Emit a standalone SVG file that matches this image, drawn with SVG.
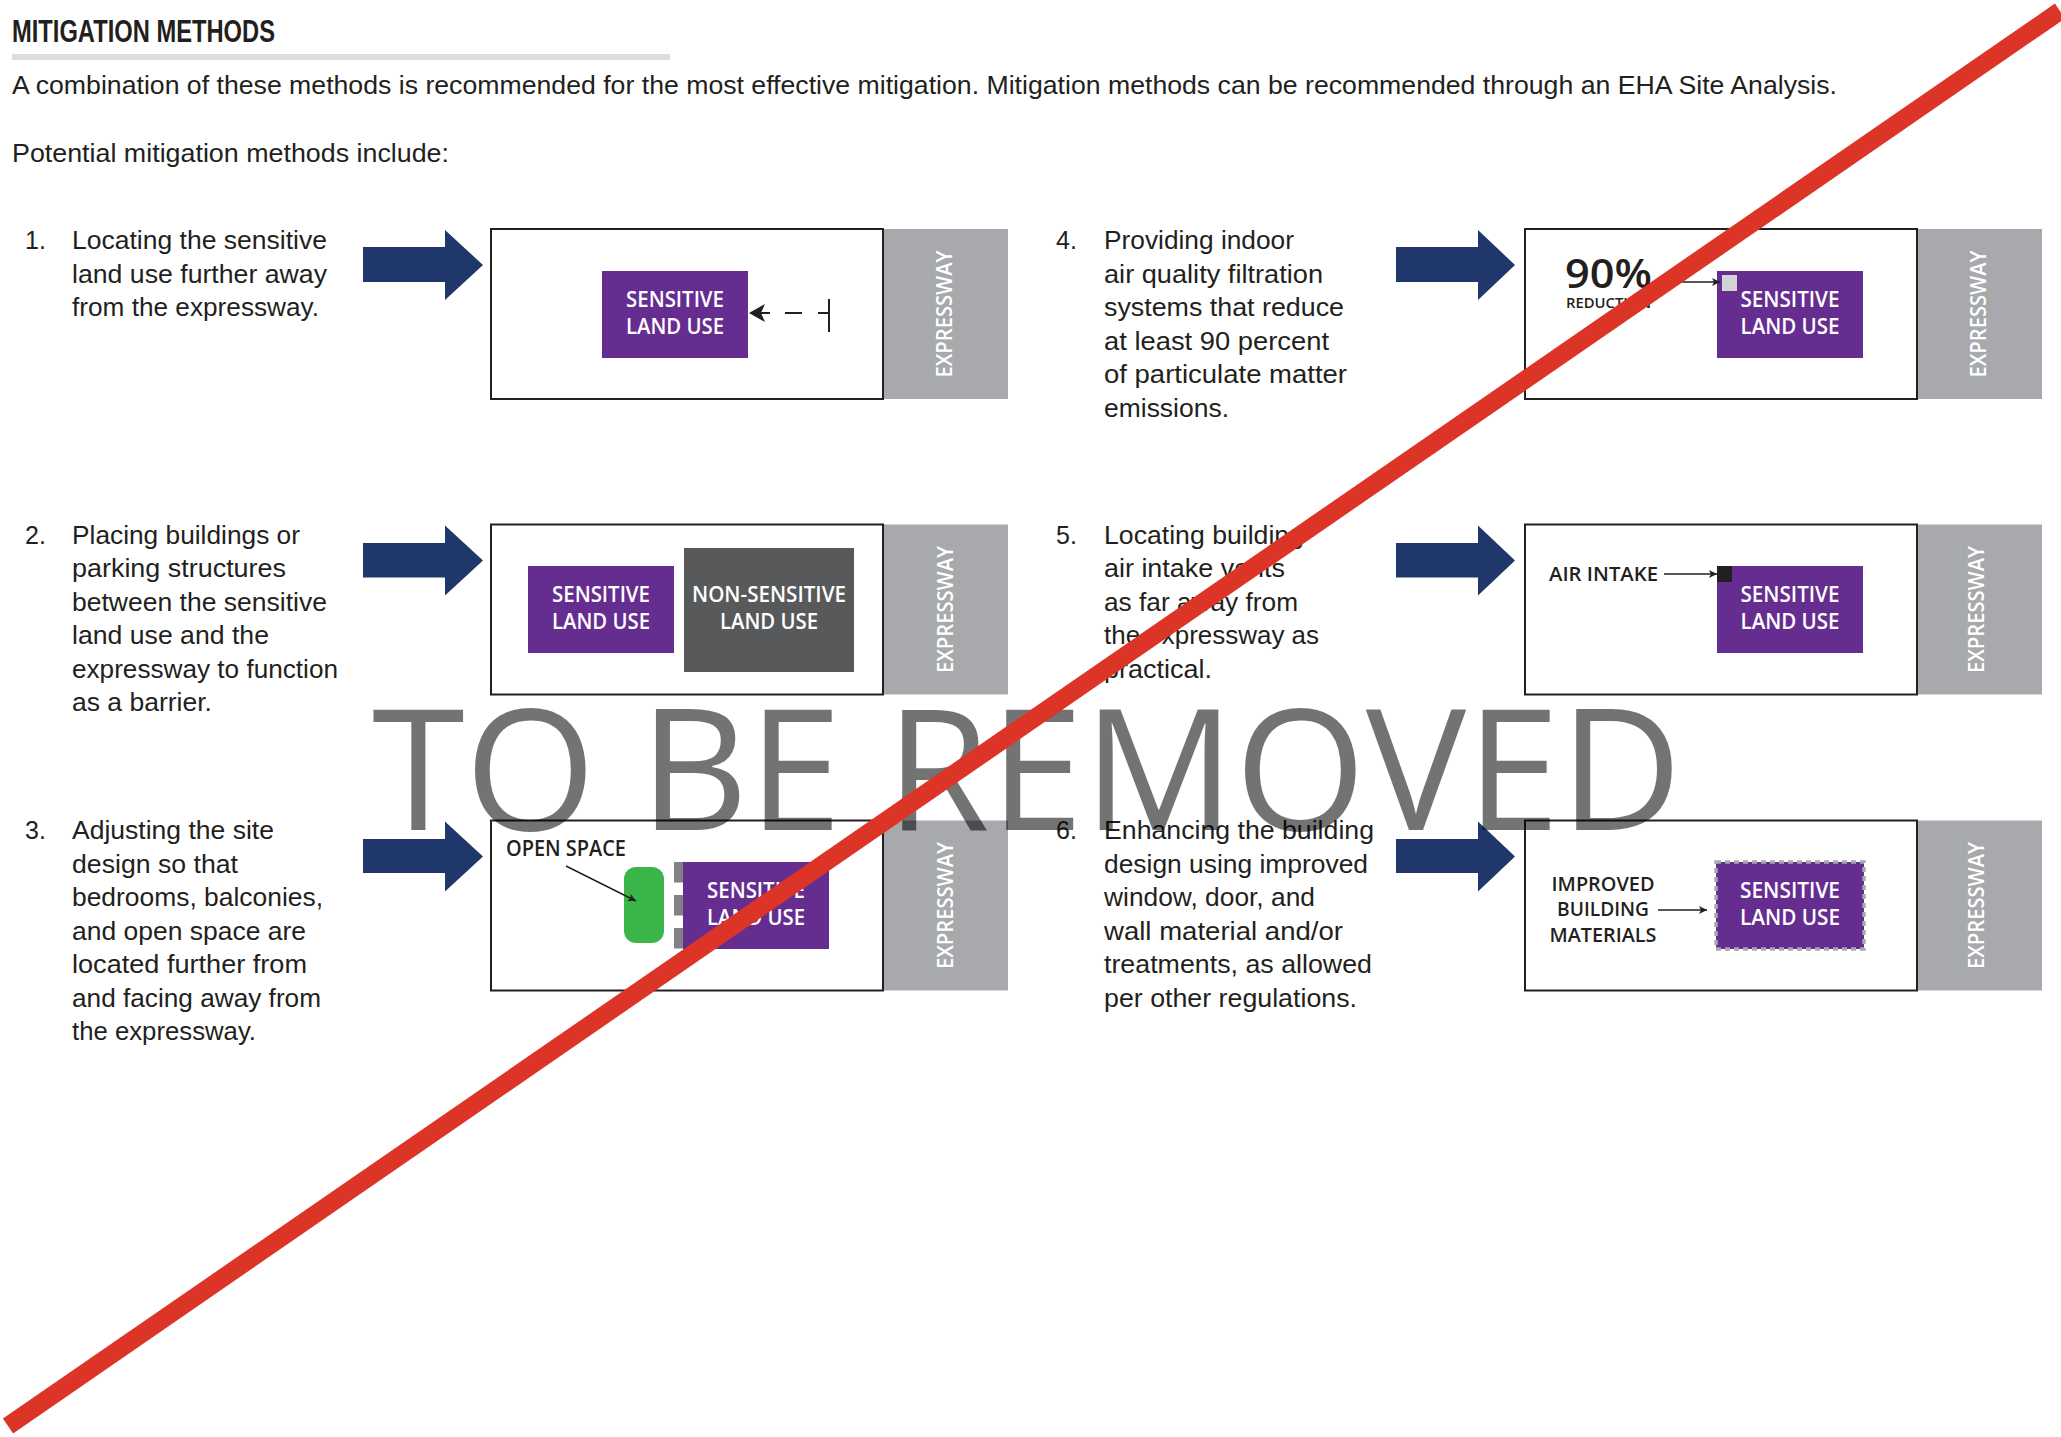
<svg xmlns="http://www.w3.org/2000/svg" width="2061" height="1437" viewBox="0 0 2061 1437">
<defs>
<style>
.title{font-family:"Liberation Sans",Arial,sans-serif;font-weight:bold;font-size:31px;fill:#231f20}
.body{font-family:"Liberation Sans",Arial,sans-serif;font-size:25px;fill:#231f20}
.lbl{font-family:"Open Sans","Liberation Sans",sans-serif;font-weight:600;font-size:20px;fill:#231f20}
.w{font-family:"Open Sans","Liberation Sans",sans-serif;font-weight:600;font-size:21px;fill:#fff;text-anchor:middle}
.box{fill:#fff;stroke:#231f20;stroke-width:2}
.band{fill:#a7a9ac}
.purple{fill:#662d91}
.big{fill:#1f376b}
.conn{stroke:#231f20;stroke-width:1.5;fill:none}
.wm{font-family:"Open Sans","Noto Sans",sans-serif;font-size:169px;fill:#000;fill-opacity:0.55}
</style>
<marker id="ah" viewBox="0 0 10 10" refX="10" refY="5" markerWidth="8" markerHeight="9" markerUnits="userSpaceOnUse" orient="auto">
<path d="M0,0 L10,5 L0,10 L2.5,5 z" fill="#231f20"/>
</marker>
</defs>
<rect width="2061" height="1437" fill="#fff"/>

<g id="header">
<text class="title" x="12" y="42" textLength="263" lengthAdjust="spacingAndGlyphs">MITIGATION METHODS</text>
<rect x="12" y="54" width="658" height="6" fill="#dcdddf"/>
<text class="body" x="12" y="94" textLength="1825" lengthAdjust="spacingAndGlyphs">A combination of these methods is recommended for the most effective mitigation. Mitigation methods can be recommended through an EHA Site Analysis.</text>
<text class="body" x="12" y="162" textLength="437" lengthAdjust="spacingAndGlyphs">Potential mitigation methods include:</text>
</g>

<g id="method1">
<text class="body" x="25" y="249">1.</text>
<text class="body" x="72" y="249" textLength="255" lengthAdjust="spacingAndGlyphs">Locating the sensitive</text>
<text class="body" x="72" y="282.6" textLength="255" lengthAdjust="spacingAndGlyphs">land use further away</text>
<text class="body" x="72" y="316.2" textLength="247" lengthAdjust="spacingAndGlyphs">from the expressway.</text>
<rect class="band" x="883" y="229" width="125" height="170"/>
<rect class="box" x="491" y="229" width="392" height="170"/>
<text class="w" transform="translate(952,314) rotate(-90)" textLength="127" lengthAdjust="spacingAndGlyphs">EXPRESSWAY</text>
<rect class="purple" x="602" y="271" width="146" height="87"/>
<text class="w" x="675" y="307" textLength="98" lengthAdjust="spacingAndGlyphs">SENSITIVE</text>
<text class="w" x="675" y="334" textLength="98" lengthAdjust="spacingAndGlyphs">LAND USE</text>
</g>

<g id="method2">
<text class="body" x="25" y="543.5">2.</text>
<text class="body" x="72" y="543.5" textLength="228" lengthAdjust="spacingAndGlyphs">Placing buildings or</text>
<text class="body" x="72" y="577" textLength="214" lengthAdjust="spacingAndGlyphs">parking structures</text>
<text class="body" x="72" y="610.5" textLength="255" lengthAdjust="spacingAndGlyphs">between the sensitive</text>
<text class="body" x="72" y="644" textLength="197" lengthAdjust="spacingAndGlyphs">land use and the</text>
<text class="body" x="72" y="677.5" textLength="266" lengthAdjust="spacingAndGlyphs">expressway to function</text>
<text class="body" x="72" y="711" textLength="140" lengthAdjust="spacingAndGlyphs">as a barrier.</text>
<rect class="band" x="883" y="524.5" width="125" height="170"/>
<rect class="box" x="491" y="524.5" width="392" height="170"/>
<text class="w" transform="translate(953,609.5) rotate(-90)" textLength="127" lengthAdjust="spacingAndGlyphs">EXPRESSWAY</text>
<rect class="purple" x="528" y="566" width="146" height="87"/>
<text class="w" x="601" y="602" textLength="98" lengthAdjust="spacingAndGlyphs">SENSITIVE</text>
<text class="w" x="601" y="629" textLength="98" lengthAdjust="spacingAndGlyphs">LAND USE</text>
<rect x="684" y="548" width="170" height="124" fill="#58595b"/>
<text class="w" x="769" y="602" textLength="154" lengthAdjust="spacingAndGlyphs">NON-SENSITIVE</text>
<text class="w" x="769" y="629" textLength="98" lengthAdjust="spacingAndGlyphs">LAND USE</text>
</g>

<g id="method3">
<text class="body" x="25" y="839">3.</text>
<text class="body" x="72" y="839" textLength="202" lengthAdjust="spacingAndGlyphs">Adjusting the site</text>
<text class="body" x="72" y="872.5" textLength="166" lengthAdjust="spacingAndGlyphs">design so that</text>
<text class="body" x="72" y="906" textLength="251" lengthAdjust="spacingAndGlyphs">bedrooms, balconies,</text>
<text class="body" x="72" y="939.5" textLength="234" lengthAdjust="spacingAndGlyphs">and open space are</text>
<text class="body" x="72" y="973" textLength="235" lengthAdjust="spacingAndGlyphs">located further from</text>
<text class="body" x="72" y="1006.5" textLength="249" lengthAdjust="spacingAndGlyphs">and facing away from</text>
<text class="body" x="72" y="1040" textLength="184" lengthAdjust="spacingAndGlyphs">the expressway.</text>
<rect class="band" x="883" y="820.5" width="125" height="170"/>
<rect class="box" x="491" y="820.5" width="392" height="170"/>
<text class="w" transform="translate(953,905.5) rotate(-90)" textLength="127" lengthAdjust="spacingAndGlyphs">EXPRESSWAY</text>
<text class="lbl" x="506" y="856" style="font-size:21px" textLength="120" lengthAdjust="spacingAndGlyphs">OPEN SPACE</text>
<rect x="624" y="867" width="40" height="76" rx="12" fill="#39b54a"/>
<rect x="674" y="862" width="9.5" height="20.5" fill="#808285"/>
<rect x="674" y="895" width="9.5" height="20.5" fill="#808285"/>
<rect x="674" y="928" width="9.5" height="20.5" fill="#808285"/>
<rect class="purple" x="683" y="862" width="146" height="87"/>
<text class="w" x="756" y="898" textLength="98" lengthAdjust="spacingAndGlyphs">SENSITIVE</text>
<text class="w" x="756" y="925" textLength="98" lengthAdjust="spacingAndGlyphs">LAND USE</text>
</g>

<g id="method4">
<text class="body" x="1056" y="249">4.</text>
<text class="body" x="1104" y="249" textLength="190" lengthAdjust="spacingAndGlyphs">Providing indoor</text>
<text class="body" x="1104" y="282.6" textLength="219" lengthAdjust="spacingAndGlyphs">air quality filtration</text>
<text class="body" x="1104" y="316.2" textLength="240" lengthAdjust="spacingAndGlyphs">systems that reduce</text>
<text class="body" x="1104" y="349.8" textLength="225" lengthAdjust="spacingAndGlyphs">at least 90 percent</text>
<text class="body" x="1104" y="383.4" textLength="243" lengthAdjust="spacingAndGlyphs">of particulate matter</text>
<text class="body" x="1104" y="417" textLength="125" lengthAdjust="spacingAndGlyphs">emissions.</text>
<rect class="band" x="1917" y="229" width="125" height="170"/>
<rect class="box" x="1525" y="229" width="392" height="170"/>
<text class="w" transform="translate(1986,314) rotate(-90)" textLength="127" lengthAdjust="spacingAndGlyphs">EXPRESSWAY</text>
<text class="lbl" x="1565" y="288" style="font-size:40px" textLength="87" lengthAdjust="spacingAndGlyphs">90%</text>
<text class="lbl" x="1566" y="308" style="font-size:15px" textLength="85" lengthAdjust="spacingAndGlyphs">REDUCTION</text>
<rect class="purple" x="1717" y="271" width="146" height="87"/>
<rect x="1722" y="275" width="15" height="16" fill="#d1d3d4"/>
<text class="w" x="1790" y="307" textLength="99" lengthAdjust="spacingAndGlyphs">SENSITIVE</text>
<text class="w" x="1790" y="334" textLength="99" lengthAdjust="spacingAndGlyphs">LAND USE</text>
</g>

<g id="method5">
<text class="body" x="1056" y="543.5">5.</text>
<text class="body" x="1104" y="543.5" textLength="200" lengthAdjust="spacingAndGlyphs">Locating building</text>
<text class="body" x="1104" y="577" textLength="181" lengthAdjust="spacingAndGlyphs">air intake vents</text>
<text class="body" x="1104" y="610.5" textLength="194" lengthAdjust="spacingAndGlyphs">as far away from</text>
<text class="body" x="1104" y="644" textLength="215" lengthAdjust="spacingAndGlyphs">the expressway as</text>
<text class="body" x="1104" y="677.5" textLength="108" lengthAdjust="spacingAndGlyphs">practical.</text>
<rect class="band" x="1917" y="524.5" width="125" height="170"/>
<rect class="box" x="1525" y="524.5" width="392" height="170"/>
<text class="w" transform="translate(1984,609.5) rotate(-90)" textLength="127" lengthAdjust="spacingAndGlyphs">EXPRESSWAY</text>
<text class="lbl" x="1549" y="581" textLength="109" lengthAdjust="spacingAndGlyphs">AIR INTAKE</text>
<rect class="purple" x="1717" y="566" width="146" height="87"/>
<rect x="1717" y="566" width="15" height="16" fill="#231f20"/>
<text class="w" x="1790" y="602" textLength="99" lengthAdjust="spacingAndGlyphs">SENSITIVE</text>
<text class="w" x="1790" y="629" textLength="99" lengthAdjust="spacingAndGlyphs">LAND USE</text>
</g>

<g id="method6">
<text class="body" x="1056" y="839">6.</text>
<text class="body" x="1104" y="839" textLength="270" lengthAdjust="spacingAndGlyphs">Enhancing the building</text>
<text class="body" x="1104" y="872.5" textLength="264" lengthAdjust="spacingAndGlyphs">design using improved</text>
<text class="body" x="1104" y="906" textLength="211" lengthAdjust="spacingAndGlyphs">window, door, and</text>
<text class="body" x="1104" y="939.5" textLength="239" lengthAdjust="spacingAndGlyphs">wall material and/or</text>
<text class="body" x="1104" y="973" textLength="268" lengthAdjust="spacingAndGlyphs">treatments, as allowed</text>
<text class="body" x="1104" y="1006.5" textLength="253" lengthAdjust="spacingAndGlyphs">per other regulations.</text>
<rect class="band" x="1917" y="820.5" width="125" height="170"/>
<rect class="box" x="1525" y="820.5" width="392" height="170"/>
<text class="w" transform="translate(1984,905.5) rotate(-90)" textLength="127" lengthAdjust="spacingAndGlyphs">EXPRESSWAY</text>
<text class="lbl" x="1603" y="891" text-anchor="middle" textLength="103" lengthAdjust="spacingAndGlyphs">IMPROVED</text>
<text class="lbl" x="1603" y="916" text-anchor="middle" textLength="92" lengthAdjust="spacingAndGlyphs">BUILDING</text>
<text class="lbl" x="1603" y="942" text-anchor="middle" textLength="107" lengthAdjust="spacingAndGlyphs">MATERIALS</text>
<rect class="purple" x="1716" y="862" width="148" height="87" stroke="#a7a9ac" stroke-width="3.5" stroke-dasharray="5 4"/>
<text class="w" x="1790" y="898" textLength="100" lengthAdjust="spacingAndGlyphs">SENSITIVE</text>
<text class="w" x="1790" y="925" textLength="100" lengthAdjust="spacingAndGlyphs">LAND USE</text>
</g>

<g id="pointers">
<polygon class="big" points="363,247 445,247 445,230 483,265 445,300 445,282 363,282"/>
<polygon class="big" points="363,543 445,543 445,525.5 483,560.5 445,595.5 445,577.5 363,577.5"/>
<polygon class="big" points="363,839 445,839 445,821.5 483,856.5 445,891.5 445,873 363,873"/>
<polygon class="big" points="1396,247 1478,247 1478,230 1515,265 1478,300 1478,282 1396,282"/>
<polygon class="big" points="1396,543 1478,543 1478,525.5 1515,560.5 1478,595.5 1478,577.5 1396,577.5"/>
<polygon class="big" points="1396,839 1478,839 1478,821.5 1515,856.5 1478,891.5 1478,873 1396,873"/>
</g>

<g id="connectors">
<line x1="829" y1="299" x2="829" y2="332" stroke="#231f20" stroke-width="2"/>
<line x1="818" y1="313" x2="829" y2="313" stroke="#231f20" stroke-width="2"/>
<line x1="785" y1="313" x2="802" y2="313" stroke="#231f20" stroke-width="2"/>
<line x1="758" y1="313" x2="770" y2="313" stroke="#231f20" stroke-width="2"/>
<polygon points="749,313 765,304 761,313 765,322" fill="#231f20"/>
<line class="conn" x1="566" y1="866" x2="636" y2="901" marker-end="url(#ah)"/>
<line class="conn" x1="1682" y1="282" x2="1720" y2="282" marker-end="url(#ah)"/>
<line class="conn" x1="1664" y1="574" x2="1717" y2="574" marker-end="url(#ah)"/>
<line class="conn" x1="1658" y1="910" x2="1707" y2="910" marker-end="url(#ah)"/>
</g>

<g id="watermark">
<text class="wm" x="372" y="830" textLength="1310" lengthAdjust="spacingAndGlyphs">TO BE REMOVED</text>
<line x1="8" y1="1426" x2="2060" y2="11" stroke="#dc3427" stroke-width="18"/>
</g>
</svg>
